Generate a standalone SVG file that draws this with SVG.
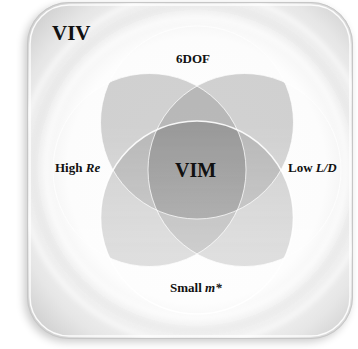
<svg xmlns="http://www.w3.org/2000/svg" xmlns:xlink="http://www.w3.org/1999/xlink" width="358" height="349" viewBox="0 0 358 349">
  <style>
    .lbl { font-family: "Liberation Serif", "Times New Roman", serif; font-weight: bold; fill: #111; }
    .it { font-style: italic; }
    .edge { fill: none; stroke: #ffffff; stroke-width: 1; stroke-opacity: 0.75; }
    .edge-strong { fill: none; stroke: #ffffff; stroke-width: 1.6; stroke-opacity: 0.9; }
    .ring { fill: none; stroke: #ffffff; }
  </style>
  <defs>
    <!-- panel fill: white centre fading to grey corners -->
    <radialGradient id="panelFill" cx="0.52" cy="0.5" r="0.72">
      <stop offset="0" stop-color="#ffffff"/>
      <stop offset="0.55" stop-color="#fdfdfd"/>
      <stop offset="0.8" stop-color="#e6e6e6"/>
      <stop offset="1" stop-color="#c4c4c4"/>
    </radialGradient>
    <filter id="panelShadow" x="-10%" y="-10%" width="120%" height="120%">
      <feGaussianBlur stdDeviation="4"/>
    </filter>
    <filter id="soft" x="-20%" y="-20%" width="140%" height="140%">
      <feGaussianBlur stdDeviation="2.5"/>
    </filter>
    <clipPath id="panelClip">
      <rect x="27" y="2" width="326" height="337" rx="42"/>
    </clipPath>

    <!-- set circles -->
    <circle id="c-top" cx="197" cy="122.5" r="96.5"/>
    <circle id="c-bottom" cx="197" cy="217.5" r="96.5"/>
    <circle id="c-left" cx="149.5" cy="170" r="96.5"/>
    <circle id="c-right" cx="244.5" cy="170" r="96.5"/>

    <!-- maps coverage count (1..4 circles at 50% alpha) to a grey level -->
    <filter id="overlapShade" filterUnits="userSpaceOnUse" x="0" y="0" width="358" height="349" color-interpolation-filters="sRGB">
      <feComponentTransfer>
        <feFuncR type="linear" slope="0" intercept="0.26"/>
        <feFuncG type="linear" slope="0" intercept="0.26"/>
        <feFuncB type="linear" slope="0" intercept="0.26"/>
        <feFuncA type="table" tableValues="0 0.001 0.002 0.003 0.004 0.005 0.006 0.007 0.008 0.06 0.12 0.18 0.24 0.30 0.36 0.54 0.58"/>
      </feComponentTransfer>
    </filter>
    <linearGradient id="fadeDown" gradientUnits="userSpaceOnUse" x1="0" y1="125" x2="0" y2="255">
      <stop offset="0" stop-color="#ffffff"/>
      <stop offset="1" stop-color="#b0b0b0"/>
    </linearGradient>
    <mask id="shadeMask" maskUnits="userSpaceOnUse" x="0" y="0" width="358" height="349">
      <rect x="0" y="0" width="358" height="349" fill="url(#fadeDown)"/>
    </mask>
  </defs>

  <!-- panel -->
  <g id="panel">
    <rect x="24" y="5" width="326" height="337" rx="42" fill="#000" opacity="0.2" filter="url(#panelShadow)"/>
    <rect x="27" y="2" width="326" height="337" rx="42" fill="url(#panelFill)"/>
    <g clip-path="url(#panelClip)" filter="url(#soft)">
      <circle class="ring" cx="196" cy="168" r="150" stroke-width="4" stroke-opacity="0.7"/>
      <circle cx="196" cy="168" r="162" fill="none" stroke="#000" stroke-opacity="0.025" stroke-width="10"/>
      <circle class="ring" cx="196" cy="168" r="176" stroke-width="5" stroke-opacity="0.6"/>
    </g>
    <rect x="27.5" y="2.5" width="325" height="336" rx="41.5" fill="none" stroke="#c6c6c6" stroke-width="1"/>
    <rect x="30" y="5" width="320" height="331" rx="39" fill="none" stroke="#ffffff" stroke-width="1.5" stroke-opacity="0.9"/>
    <text class="lbl" x="52" y="40" font-size="21">VIV</text>
  </g>

  <!-- overlap shading of the four sets -->
  <g id="overlap-shading" mask="url(#shadeMask)">
    <g filter="url(#overlapShade)" fill="#000" fill-opacity="0.5">
      <use xlink:href="#c-top"/>
      <use xlink:href="#c-bottom"/>
      <use xlink:href="#c-left"/>
      <use xlink:href="#c-right"/>
    </g>
  </g>

  <!-- sets -->
  <g id="set-6dof">
    <use xlink:href="#c-top" class="edge"/>
    <text class="lbl" x="176" y="63" font-size="13">6DOF</text>
  </g>
  <g id="set-high-re">
    <use xlink:href="#c-left" class="edge"/>
    <text class="lbl" x="55" y="172" font-size="13">High <tspan class="it">Re</tspan></text>
  </g>
  <g id="set-low-ld">
    <use xlink:href="#c-right" class="edge"/>
    <text class="lbl" x="288" y="172" font-size="13">Low <tspan class="it">L/D</tspan></text>
  </g>
  <g id="set-small-m">
    <use xlink:href="#c-bottom" class="edge-strong"/>
    <text class="lbl" x="170" y="292" font-size="13">Small <tspan class="it">m*</tspan></text>
  </g>

  <!-- common intersection -->
  <g id="vim">
    <text class="lbl" x="175" y="177" font-size="20">VIM</text>
  </g>
</svg>
